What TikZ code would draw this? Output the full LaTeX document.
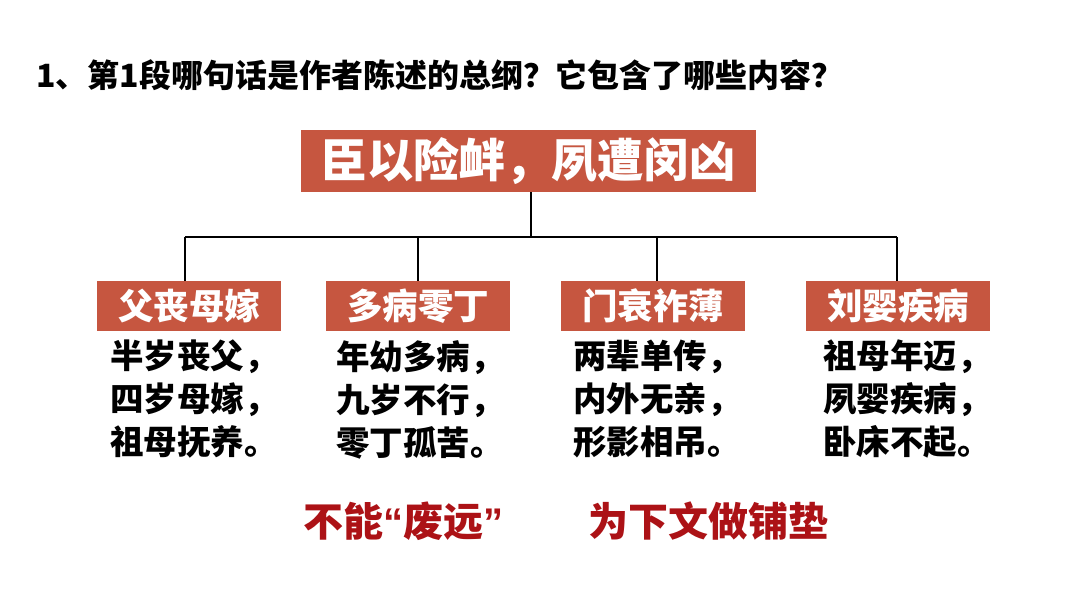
\documentclass[tikz,border=0pt]{standalone}
\usepackage{fontspec}
\setmainfont{Noto Sans CJK SC}
\newfontfamily\latinq{Liberation Sans}
\definecolor{boxred}{RGB}{198,86,64}
\definecolor{darkred}{RGB}{172,18,22}
\tikzset{
  topbox/.style={fill=boxred, text=white, inner sep=0pt, minimum width=455pt, minimum height=62pt, font=\fontsize{46}{50}\selectfont\bfseries},
  subbox/.style={fill=boxred, text=white, inner sep=0pt, minimum width=184pt, minimum height=50pt, font=\fontsize{35.5}{38}\selectfont\bfseries},
  bodytext/.style={inner sep=0pt, align=left, anchor=north, font=\fontsize{33.5}{43}\selectfont\bfseries},
  redtext/.style={text=darkred, inner sep=0pt, font=\fontsize{40}{44}\selectfont\bfseries},
  conn/.style={line width=1.5pt, black}
}
\begin{document}
\begin{tikzpicture}[x=1pt,y=-1pt]
\useasboundingbox (0,0) rectangle (1080,608);
\node[anchor=west, inner sep=0pt, font=\fontsize{32}{36}\selectfont\bfseries] (title) at (36,75) {1、第1段哪句话是作者陈述的总纲？它包含了哪些内容？};
\node[topbox] (top) at (528,161) {臣以险衅，夙遭闵凶};
\node[subbox] (b1) at (189,306) {父丧母嫁};
\node[subbox] (b2) at (418,306) {多病零丁};
\node[subbox] (b3) at (653,306) {门衰祚薄};
\node[subbox] (b4) at (898,306) {刘婴疾病};
\coordinate (hl) at (185,237);
\coordinate (hr) at (897,237);
\draw[conn] (top.south -| 531,0) -- (531,237);
\draw[conn] (hl) -- (hr);
\draw[conn] (hl) -- (hl |- b1.north);
\draw[conn] (418,237) -- (b2.north);
\draw[conn] (657,237) -- (657,0 |- b3.north);
\draw[conn] (hr) -- (hr |- b4.north);
\node[bodytext] (t1) at (194,340) {半岁丧父，\\四岁母嫁，\\祖母抚养。};
\node[bodytext] (t2) at (420,340) {年幼多病，\\九岁不行，\\零丁孤苦。};
\node[bodytext] (t3) at (657,340) {两辈单传，\\内外无亲，\\形影相吊。};
\node[bodytext] (t4) at (907,340) {祖母年迈，\\夙婴疾病，\\卧床不起。};
\node[redtext, anchor=west] (r1) at (303,521) {不能{\latinq “}废远{\latinq ”}};
\node[redtext, anchor=west] (r2) at (588,521) {为下文做铺垫};
\end{tikzpicture}
\end{document}
